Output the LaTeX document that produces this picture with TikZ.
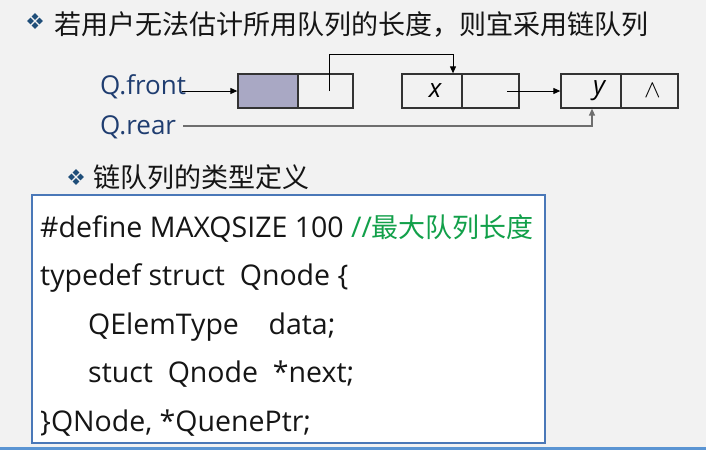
\documentclass[tikz,border=0pt]{standalone}
\usepackage{fontspec}
\setmainfont{Open Sans}
\newfontfamily\cjk{Noto Sans CJK SC}
\usepackage{xcolor}
\usetikzlibrary{arrows.meta}

\definecolor{bggray}{HTML}{F2F2F2}
\definecolor{barblue}{HTML}{5B95D3}
\definecolor{bulletblue}{HTML}{1F4E79}
\definecolor{qblue}{HTML}{1F3D70}
\definecolor{cellfill}{HTML}{A9A8C4}
\definecolor{boxblue}{HTML}{4A78B8}
\definecolor{cgreen}{HTML}{12A04A}
\definecolor{reargray}{HTML}{6E6E6E}
\definecolor{ink}{HTML}{151515}

\tikzset{
  bullet/.pic={
    \foreach \dx/\dy in {-4.5/0, 4.5/0, 0/-4.5, 0/4.5}
      \fill[bulletblue] (\dx-3.4,\dy) -- (\dx,\dy-3.4) -- (\dx+3.4,\dy) -- (\dx,\dy+3.4) -- cycle;
  },
  head/.style={anchor=west, inner sep=0pt, text=ink, font=\cjk\fontsize{27}{30}\selectfont},
  qlab/.style={anchor=base west, inner sep=0pt, text=qblue, font=\fontsize{26}{30}\selectfont},
  cell/.style={draw=black!80, line width=1.3pt, minimum width=60pt, minimum height=34pt,
    inner sep=0pt, font=\itshape\fontsize{26}{30}\selectfont},
  ptr/.style={-{Triangle[length=7pt,width=6pt]}, line width=1pt, black},
  codebox/.style={draw=boxblue, line width=2pt, fill=white, minimum width=513pt,
    minimum height=248pt, inner sep=0pt},
  codeline/.style={anchor=base west, inner sep=0pt, text=ink, font=\fontsize{28.5}{32}\selectfont},
}

\begin{document}
\begin{tikzpicture}[x=1pt,y=-1pt]
  \useasboundingbox (0,0) rectangle (706,450);
  \fill[bggray] (0,0) rectangle (706,450);
  \fill[barblue] (0,447) rectangle (706,450);

  % title
  \pic at (35,21) {bullet};
  \node[head] (title) at (54,25) {若用户无法估计所用队列的长度，则宜采用链队列};

  % linked queue
  \node[qlab] (qf) at (100,94) {Q.front};
  \node[qlab] (qr) at (100,134) {Q.rear};
  \node[cell, fill=cellfill] (f1) at (268,91) {};
  \node[cell, minimum width=55pt] (f2) at (325.5,91) {};
  \node[cell] (b1) at (432,91) {\hspace*{6pt}x};
  \node[cell, minimum width=57pt] (b2) at (490.5,91) {};
  \node[cell] (c1) at (591,91) {\hspace*{16pt}y};
  \node[cell, minimum width=57pt] (c2) at (649.5,91) {\hspace*{6pt}$\wedge$};
  \draw[ptr] ([xshift=-4pt]qf.east |- f1.west) -- (f1.west);
  \draw[ptr] ([xshift=3.5pt]f2.center) -- ++(0,-37) -| ([xshift=21pt]b1.north);
  \draw[ptr] ([xshift=16.5pt]b2.center) -- (c1.west);
  \draw[ptr, draw=reargray, line width=1.5pt] ([xshift=7pt,yshift=1pt]qr.east) -| ([xshift=1pt]c1.south);

  % type definition
  \pic at (76,177) {bullet};
  \node[head] (sub) at (93,177) {链队列的类型定义};
  \node[codebox] (code) at (288.5,319) {};
  \node[codeline] (l1) at (40,237) {\#define MAXQSIZE 100 {\color{cgreen}//{\cjk\fontsize{27}{30}\selectfont 最大队列长度}}};
  \node[codeline] (l2) at (40,285) {typedef struct\ \ Qnode \{};
  \node[codeline] (l3) at (88,334) {QElemType\ \ \ \ data;};
  \node[codeline] (l4) at (88,382) {stuct\ \ Qnode\ \ *next;};
  \node[codeline] (l5) at (40,431) {\}QNode, *QuenePtr;};
\end{tikzpicture}
\end{document}
